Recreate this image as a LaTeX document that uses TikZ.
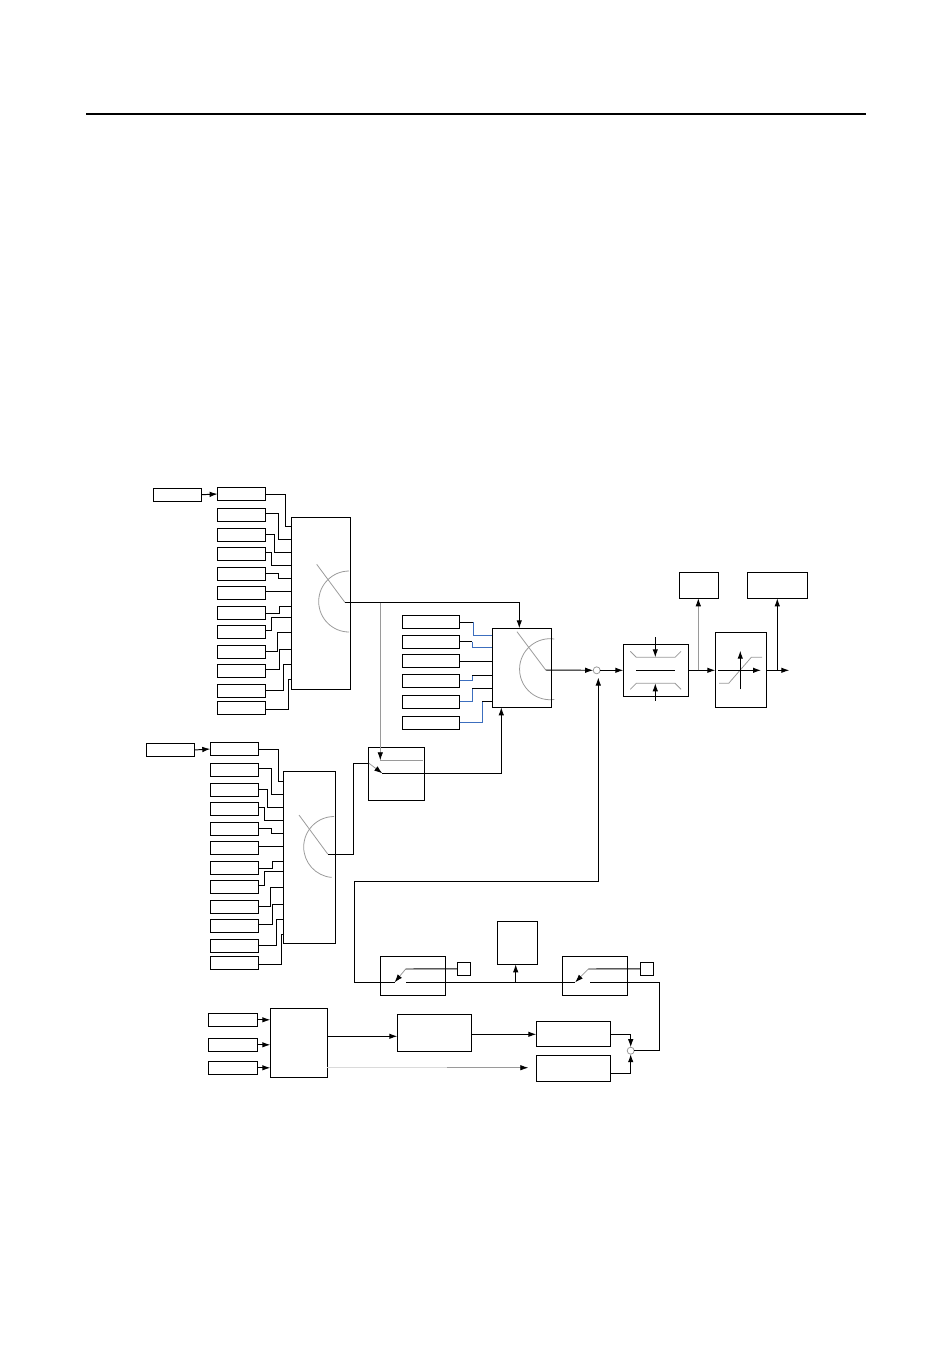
\documentclass[tikz,border=0pt]{standalone}
\usetikzlibrary{arrows.meta}
\definecolor{ink}{HTML}{000000}
\definecolor{muted}{HTML}{9A9A9A}
\definecolor{pale}{HTML}{DADADA}
\definecolor{wireblue}{HTML}{3C6EBE}

\begin{document}
\begin{tikzpicture}[
  x=0.02cm, y=-0.02cm,
  block/.style={draw=ink, line width=0.55pt, inner sep=0pt, outer sep=0pt},
  srca/.style={block, minimum width=0.96cm, minimum height=0.26cm},
  srcc/.style={block, minimum width=1.148cm, minimum height=0.268cm},
  sel/.style={block, minimum width=0.98cm, minimum height=0.26cm},
  mux/.style={block, minimum width=1.18cm, minimum height=3.44cm},
  switchbox/.style={block, minimum width=1.3cm, minimum height=0.78cm},
  tag/.style={block, minimum width=0.26cm, minimum height=0.26cm},
  filter/.style={block, minimum width=1.48cm},
  sum/.style={circle, draw=muted, line width=0.45pt, inner sep=0pt, outer sep=0pt, minimum size=0.14cm},
  wire/.style={draw=ink, line width=0.55pt},
  flow/.style={wire, -{Latex[length=1.6mm,width=1.1mm]}},
  blue/.style={draw=wireblue, line width=0.55pt},
  graywire/.style={draw=muted, line width=0.45pt},
  grayflow/.style={graywire, -{Latex[length=1.6mm,width=1.1mm,color=ink]}},
  palewire/.style={draw=pale, line width=0.7pt},
]
\useasboundingbox (0,0) rectangle (950,1357);

\coordinate (ruleL) at (86,114);
\coordinate (ruleR) at (866,114);
\draw[ink, line width=1pt] (ruleL) -- (ruleR);

% The two selector banks, the second one sits 255 lower and 7 to the left.
\node[mux] (muxA) at (321.2,603.3) {};
\node[mux, minimum width=1.032cm] (muxB) at (309.5,857.3) {};
\node[srca] (inA) at (177.6,494.7) {};
\node[srca] (inB) at (170.3,750) {};

\foreach \ya/\wa/\bend/\pin [count=\i] in {
    494/494.3/285.7/526.7, 515/513.3/278.3/539.3, 535/534.3/274.3/552.3,
    554/552.3/271.3/565.3, 574/573/278.3/578.3, 593/591.3/285/591.3,
    613/613/279.3/606.3, 632/630.7/271.3/617, 652/651.3/277.3/632.3,
    671/669.3/279.3/649.3, 691/690.3/283.3/664.3, 708/709.3/288/679.3} {
  \pgfmathsetmacro\yb{\ya+255}
  \pgfmathsetmacro\wb{\wa+255}
  \pgfmathsetmacro\bendb{\bend-7}
  \pgfmathsetmacro\pinb{\pin+254.7}
  \node[srca] (srcA\i) at (241.6,\ya) {};
  \node[srca] (srcB\i) at (234.3,\yb) {};
  \draw[wire] (srcA\i.east |- 0,\wa) -| (\bend,\pin) -- (muxA.west |- 0,\pin);
  \draw[wire] (srcB\i.east |- 0,\wb) -| (\bendb,\pinb) -- (muxB.west |- 0,\pinb);
}
\draw[flow] (inA.east) -- (srcA1.west);
\draw[flow] (inB.east) -- (srcB1.west);

% wipers, y runs downward here so the arcs go from 270 back to 90
\coordinate (wipA) at (345,602.5);
\coordinate (wipB) at (327.7,854);
\coordinate (wipC) at (545.7,670);
\draw[graywire] (wipA) -- (316.7,564.3);
\draw[graywire] (wipB) -- (299,815);
\draw[graywire] (wipC) -- (517,631.7);
\draw[graywire] (349.2,571) arc[start angle=270, end angle=90, radius=30.5];
\draw[graywire] (334.2,816.5) arc[start angle=270, end angle=95, radius=30.5];
\draw[graywire] (554.3,639) arc[start angle=278, end angle=82, radius=30.5];

% third selector with its six sources
\node[block, minimum width=1.188cm, minimum height=1.58cm] (muxC) at (522,667.8) {};
\node[srcc] (srcC1) at (431,622) {};
\node[srcc] (srcC2) at (431,642) {};
\node[srcc] (srcC3) at (431,661) {};
\node[srcc] (srcC4) at (431,681) {};
\node[srcc] (srcC5) at (431,702) {};
\node[srcc] (srcC6) at (431,723) {};

\draw[wire] (srcC1.east |- 0,622.3) -- (473.3,622.3);
\draw[blue] (473.3,622.3) |- (muxC.west |- 0,635.3);
\draw[wire] (srcC2.east |- 0,641.7) -- (472.3,641.7);
\draw[blue] (472.3,641.7) |- (muxC.west |- 0,647.3);
\draw[wire] (srcC3.east |- 0,661.3) -- (muxC.west |- 0,661.3);
\draw[blue] (srcC4.east |- 0,680.3) -| (472.3,675.3);
\draw[wire] (472.3,675.3) -- (muxC.west |- 0,675.3);
\draw[blue] (srcC5.east |- 0,701.3) -| (472.3,688.3);
\draw[wire] (472.3,688.3) -- (muxC.west |- 0,688.3);
\draw[blue] (srcC6.east |- 0,722.3) -| (482.3,701.3);
\draw[wire] (482.3,701.3) -- (muxC.west |- 0,701.3);

% change-over between the banks
\node[block, minimum width=1.12cm, minimum height=1.06cm] (change) at (396.3,773.8) {};
\coordinate (tapA) at (380.3,602.5);
\coordinate (contA) at (380.3,760.3);
\coordinate (contB) at (382.3,773.3);
\coordinate (armB) at (369,763.3);
\draw[flow] (wipA) -| (519.3,628.3);
\draw[grayflow] (tapA) -- (contA);
\draw[graywire] (contA) -- (422.7,760.3);
\draw[wire] (wipB) -| (353.3,763.3) -- (armB);
\draw[grayflow] (armB) -- (contB);
\draw[flow] (contB) -| (501.3,707.3);

% output chain
\node[sum] (sumA) at (596.7,670.3) {};
\node[block, minimum width=1.308cm, minimum height=1.04cm] (limit) at (656,670.3) {};
\node[block, minimum width=1.02cm, minimum height=1.5cm] (gain) at (740.8,669.8) {};
\node[block, minimum width=0.78cm, minimum height=0.52cm] (monA) at (698.8,585.3) {};
\node[block, minimum width=1.208cm, minimum height=0.52cm] (monB) at (777.5,585.3) {};
\coordinate (outEnd) at (789.3,670.3);
\coordinate (tapB) at (698.3,670.3);
\coordinate (tapC) at (777.3,670.3);

\draw[flow] (wipC) -- (sumA.west);
\draw[flow] (sumA.east) -- (limit.west);
\draw[flow] (limit.east) -- (gain.west |- limit.east);
\draw[grayflow] (tapB) -- (monA.south -| tapB);
\draw[flow] (gain.east |- outEnd) -- (outEnd);
\draw[flow] (tapC) -- (monB.south -| tapC);

\draw[wire] (636,670.3) -- (675,670.3);
\draw[graywire] (630.3,651.3) -- (636.3,657.3) -- (675,657.3) -- (681,651.3);
\draw[graywire] (630.3,689.3) -- (636.3,683.3) -- (675,683.3) -- (681,689.3);
\draw[flow] (655.3,637.3) -- (655.3,657.3);
\draw[flow] (655.3,700.7) -- (655.3,683.3);

\draw[graywire] (719,683.3) -- (728.7,683.3) -- (751.3,657.3) -- (762,657.3);
\draw[flow] (718.3,670.3) -- (761,670.3);
\draw[flow] (740.3,689.3) -- (740.3,650.7);

% feedback switches
\node[switchbox] (swL) at (413,975.8) {};
\node[switchbox] (swR) at (594.8,975.8) {};
\node[tag] (tagL) at (464,968.8) {};
\node[tag] (tagR) at (646.8,968.8) {};
\node[block, minimum width=0.8cm, minimum height=0.86cm] (hold) at (517.3,942.8) {};
\coordinate (armL) at (405.7,969);
\coordinate (armR) at (588.3,969);
\coordinate (tipL) at (394.6,982.3);
\coordinate (tipR) at (575.2,982.3);
\coordinate (startL) at (406.3,982.3);
\coordinate (startR) at (590.3,982.3);
\coordinate (tapD) at (515.7,982.3);

\draw[flow] (tipL) -- (354.3,982.3) |- (598.3,881.3) -- (598.3,677.5);
\draw[grayflow] (armL) -- (tipL);
\draw[grayflow] (armR) -- (tipR);
\draw[wire] (armL) -- (tagL.west);
\draw[wire] (armR) -- (tagR.west);
\draw[wire] (startL) -- (tipR);
\draw[flow] (tapD) -- (hold.south -| tapD);

% bottom row
\node[block, minimum width=1.14cm, minimum height=1.38cm] (calc) at (298.8,1042.8) {};
\node[sel] (selA) at (232.8,1019.8) {};
\node[sel] (selB) at (232.8,1044.8) {};
\node[sel] (selC) at (232.8,1067.8) {};
\node[block, minimum width=1.48cm, minimum height=0.74cm] (mid) at (434.3,1032.8) {};
\node[filter, minimum height=0.5cm] (filtA) at (573.3,1033.8) {};
\node[filter, minimum height=0.52cm] (filtB) at (573.3,1068.3) {};
\node[sum] (sumB) at (630.7,1050.7) {};
\coordinate (fadeEnd) at (447,1067.7);
\coordinate (grayEnd) at (528.3,1067.7);

\draw[flow] (selA.east) -- (calc.west |- selA.east);
\draw[flow] (selB.east) -- (calc.west |- selB.east);
\draw[flow] (selC.east) -- (calc.west |- selC.east);
\draw[flow] (calc.east |- 0,1036.3) -- (mid.west |- 0,1036.3);
\draw[flow] (mid.east |- 0,1034.3) -- (filtA.west |- 0,1034.3);
\draw[palewire] (calc.east |- fadeEnd) -- (fadeEnd);
\draw[grayflow] (fadeEnd) -- (grayEnd);
\draw[flow] (filtA.east |- 0,1034.3) -| (sumB.north);
\draw[flow] (filtB.east |- 0,1073.3) -| (sumB.south);
\draw[wire] (sumB.east) -| (659.3,982.3) -- (startR);
\end{tikzpicture}
\end{document}
